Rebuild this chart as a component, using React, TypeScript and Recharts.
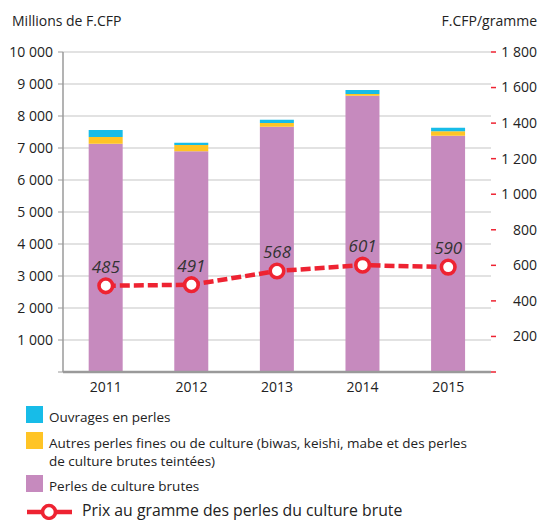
import React from "react";
import {
  ComposedChart,
  Bar,
  Line,
  XAxis,
  YAxis,
  CartesianGrid,
  LabelList,
} from "recharts";

const years = ["2011", "2012", "2013", "2014", "2015"];
const perlesBrutes = [7130, 6900, 7665, 8630, 7380];
const autresPerles = [210, 190, 115, 60, 140];
const ouvrages = [220, 75, 105, 120, 110];
const prixGramme = [485, 491, 568, 601, 590];

const leftTicks = [0, 1000, 2000, 3000, 4000, 5000, 6000, 7000, 8000, 9000, 10000];
const rightTicks = [0, 200, 400, 600, 800, 1000, 1200, 1400, 1600, 1800];

const COLORS = {
  cyan: "#17bce8",
  yellow: "#ffc425",
  purple: "#c68abe",
  red: "#ee2332",
  text: "#222222",
  grid: "#d9d9d9",
  axis: "#9a9a9a",
};

const FONT = "'Open Sans', sans-serif";

const data = years.map((y, i) => ({
  year: y,
  brutes: perlesBrutes[i],
  autres: autresPerles[i],
  ouvrages: ouvrages[i],
  prix: prixGramme[i],
}));

const fmt = (v: number) =>
  String(v).replace(/\B(?=(\d{3})+(?!\d))/g, " ");

const LeftTick = (props: any) => {
  const { x, y, payload } = props;
  if (payload.value === 0) return null;
  return (
    <text x={x} y={y} dy="0.35em" textAnchor="end" fontSize={14} fill={COLORS.text} fontFamily={FONT}>
      {fmt(payload.value)}
    </text>
  );
};

const RightTick = (props: any) => {
  const { y, payload } = props;
  if (payload.value === 0) return null;
  return (
    <text x={537} y={y} dy="0.35em" textAnchor="end" fontSize={14} fill={COLORS.text} fontFamily={FONT}>
      {fmt(payload.value)}
    </text>
  );
};

const PointLabel = (props: any) => {
  const { x, y, value } = props;
  return (
    <text x={x} y={y - 13} textAnchor="middle" fontSize={17} fontStyle="italic" fill="#333" fontFamily={FONT}>
      {value}
    </text>
  );
};

const legendItems = [
  { color: COLORS.cyan, top: 406, lines: ["Ouvrages en perles"] },
  {
    color: COLORS.yellow,
    top: 432,
    lines: [
      "Autres perles fines ou de culture (biwas, keishi, mabe et des perles",
      "de culture brutes teintées)",
    ],
  },
  { color: COLORS.purple, top: 475, lines: ["Perles de culture brutes"] },
];

export default function App() {
  return (
    <div style={{ position: "absolute", left: 0, top: 0, width: 538, height: 520, fontFamily: FONT, color: COLORS.text }}>
      <ComposedChart
        width={538}
        height={520}
        data={data}
        margin={{ top: 52, right: 0, bottom: 118, left: 0 }}
        barCategoryGap="30%"
      >
        <CartesianGrid yAxisId="left" vertical={false} stroke={COLORS.grid} strokeWidth={1.5} />
        <XAxis
          dataKey="year"
          height={30}
          tickLine={false}
          tickMargin={4}
          axisLine={{ stroke: COLORS.axis, strokeWidth: 2.5 }}
          tick={{ fontSize: 14, fill: COLORS.text, fontFamily: FONT }}
        />
        <YAxis
          yAxisId="left"
          width={63}
          domain={[0, 10000]}
          ticks={leftTicks}
          interval={0}
          tickSize={5}
          tickMargin={5}
          axisLine={{ stroke: COLORS.axis, strokeWidth: 1.5 }}
          tickLine={{ stroke: COLORS.axis }}
          tick={<LeftTick />}
        />
        <YAxis
          yAxisId="right"
          orientation="right"
          width={47}
          domain={[0, 1800]}
          ticks={rightTicks}
          interval={0}
          tickSize={5}
          axisLine={false}
          tickLine={{ stroke: COLORS.red, strokeWidth: 1.5 }}
          tick={<RightTick />}
        />
        <Bar yAxisId="left" dataKey="brutes" stackId="a" fill={COLORS.purple} isAnimationActive={false} />
        <Bar yAxisId="left" dataKey="autres" stackId="a" fill={COLORS.yellow} isAnimationActive={false} />
        <Bar yAxisId="left" dataKey="ouvrages" stackId="a" fill={COLORS.cyan} isAnimationActive={false} />
        <Line
          yAxisId="right"
          dataKey="prix"
          stroke={COLORS.red}
          strokeWidth={4.5}
          strokeDasharray="10 4"
          dot={{ r: 6.8, stroke: COLORS.red, strokeWidth: 3.6, fill: "#ffffff", strokeDasharray: "" }}
          activeDot={false}
          isAnimationActive={false}
        >
          <LabelList dataKey="prix" content={<PointLabel />} />
        </Line>
      </ComposedChart>

      <div style={{ position: "absolute", left: 12, top: 11, fontSize: 14, lineHeight: "20px", whiteSpace: "nowrap" }}>
        Millions de F.CFP
      </div>
      <div style={{ position: "absolute", right: 1, top: 11, fontSize: 14, lineHeight: "20px", whiteSpace: "nowrap" }}>
        F.CFP/gramme
      </div>

      {legendItems.map((it, i) => (
        <div key={i}>
          <div style={{ position: "absolute", left: 26, top: it.top, width: 17, height: 17, background: it.color }} />
          <div style={{ position: "absolute", left: 49, top: it.top + 2, fontSize: 13.5, lineHeight: "18px", whiteSpace: "nowrap" }}>
            {it.lines.map((l, j) => (
              <div key={j}>{l}</div>
            ))}
          </div>
        </div>
      ))}
      <svg style={{ position: "absolute", left: 0, top: 500 }} width={80} height={24}>
        <line x1={27} y1={12} x2={72} y2={12} stroke={COLORS.red} strokeWidth={4.5} />
        <circle cx={49} cy={12} r={6.5} stroke={COLORS.red} strokeWidth={3.6} fill="#ffffff" />
      </svg>
      <div style={{ position: "absolute", left: 82, top: 499, fontSize: 15.8, lineHeight: "22px", whiteSpace: "nowrap" }}>
        Prix au gramme des perles du culture brute
      </div>
    </div>
  );
}
